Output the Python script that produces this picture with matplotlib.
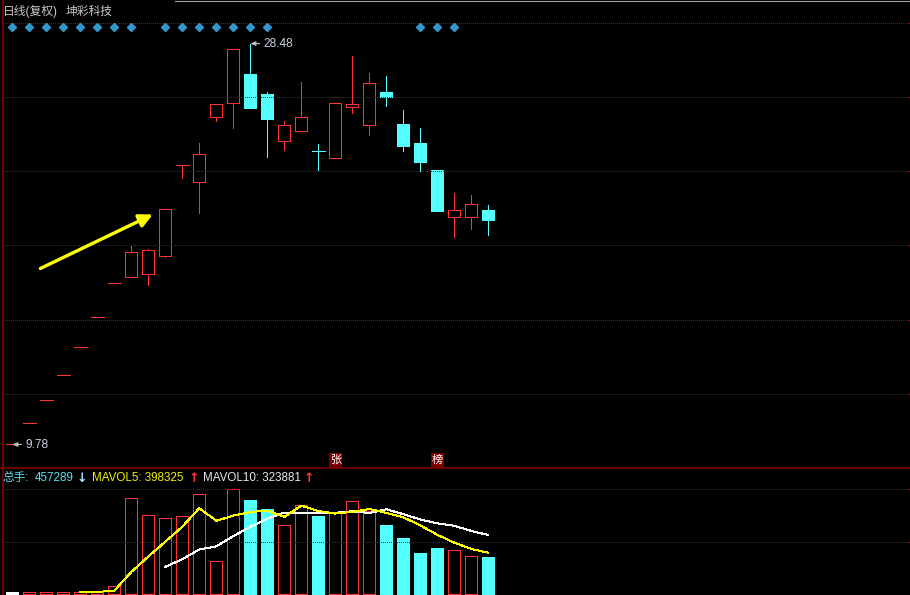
import numpy as np
import pandas as pd
import matplotlib
matplotlib.use("Agg")
import matplotlib.pyplot as plt
from matplotlib.patches import Rectangle
from matplotlib.lines import Line2D

# daily bars of 坤彩科技 (复权)
opens = [9.78, 10.76, 11.84, 13.02, 14.32, 15.75, 17.33, 17.60, 17.74, 18.58,
         22.82, 22.01, 25.05, 25.72, 27.04, 26.15, 23.95, 24.41, 23.46, 23.13,
         25.51, 24.67, 26.24, 24.75, 23.82, 22.56, 20.38, 20.38, 20.74]
highs = [9.78, 10.76, 11.84, 13.02, 14.32, 15.75, 17.33, 19.02, 18.92, 20.75,
         22.82, 23.82, 25.68, 28.24, 28.48, 26.20, 24.89, 26.71, 23.80, 25.72,
         27.88, 27.13, 26.99, 25.40, 24.52, 22.56, 21.49, 21.44, 20.93]
lows = [9.78, 10.76, 11.84, 13.02, 14.32, 15.75, 17.33, 17.60, 17.21, 18.52,
        22.20, 20.57, 24.89, 24.53, 25.47, 23.18, 23.51, 24.41, 22.57, 23.13,
        25.23, 24.21, 25.59, 23.49, 22.53, 20.65, 19.48, 19.81, 19.53]
closes = [9.78, 10.76, 11.84, 13.02, 14.32, 15.75, 17.33, 18.77, 18.86, 20.75,
          22.82, 23.34, 25.68, 28.24, 25.47, 24.95, 24.69, 25.06, 23.46, 25.72,
          25.67, 26.65, 25.98, 23.69, 22.95, 20.65, 20.73, 21.02, 20.23]
volumes = [30000, 26000, 24000, 27000, 25000, 29000, 95000, 1186000, 973000, 939000,
           960000, 1232000, 404000, 1294000, 1162000, 1042000, 849000, 1096000, 964000, 1005000,
           1149000, 1026000, 853000, 692000, 507000, 569000, 540000, 470000, 457289]

signal_days = [0, 1, 2, 3, 4, 5, 6, 7, 9, 10, 11, 12, 13, 14, 15, 24, 25, 26]
badges = [(19, "张"), (25, "榜")]

title_left = "日线(复权)"
title_name = "坤彩科技"
vol_label = "总手:"
vol_text = "457289"
ma5_text = "MAVOL5: 398325"
ma10_text = "MAVOL10: 323881"

RED = "#FF3232"
CYAN = "#54FFFF"
GRID = "#B00000"
DARKRED = "#8A0000"

plt.rcParams["font.family"] = ["Liberation Sans", "Noto Sans CJK SC", "DejaVu Sans"]

W, H = 910, 595
STEP = 17.0  # pixels between candles

fig = plt.figure(figsize=(W / 100, H / 100), dpi=100, facecolor="black")
axp = fig.add_axes([0, 128 / H, 1, 467 / H])
axv = fig.add_axes([0, 0, 1, 127 / H])
for ax in (axp, axv):
    ax.set_facecolor("black")
    ax.set_xlim(-12.5 / STEP + 0.01, (W - 12.5) / STEP + 0.01)
    ax.set_xticks([])
    ax.set_yticks([])
    for s in ax.spines.values():
        s.set_visible(False)

# price scale: 21.44 px per yuan, 9.78 sits on pixel row 444
ppy = 21.44
axp.set_ylim(9.78 - 22.5 / ppy, 9.78 + 444.5 / ppy)

# dotted grid
for lv in np.linspace(12.14, 29.46, 6):
    axp.axhline(lv, xmin=5 / W, xmax=1, color=GRID, lw=0.72, ls=(0, (1, 2)),
                antialiased=False)

half = 6 / STEP
lw1 = 0.72


def is_up(i):
    if closes[i] != opens[i]:
        return closes[i] > opens[i]
    return i == 0 or closes[i] >= closes[i - 1]


for i in range(len(closes)):
    o, h, l, c = opens[i], highs[i], lows[i], closes[i]
    col = RED if is_up(i) else CYAN
    top, bot = max(o, c), min(o, c)
    if o == c:
        axp.plot([i - 6.5 / STEP, i + 6.5 / STEP], [o, o], color=col, lw=lw1,
                 solid_capstyle="butt", antialiased=False)
    else:
        axp.add_patch(Rectangle((i - half, bot), 2 * half, top - bot, lw=lw1,
                                edgecolor=col, antialiased=False,
                                facecolor="none" if col == RED else col))
    if h > top:
        axp.plot([i, i], [top, h], color=col, lw=lw1, solid_capstyle="butt",
                 antialiased=False)
    if l < bot:
        axp.plot([i, i], [l, bot], color=col, lw=lw1, solid_capstyle="butt",
                 antialiased=False)

# signal diamonds along the top
tx = axp.get_xaxis_transform()
axp.plot(signal_days, [1 - 26.5 / 467] * len(signal_days), "D", ms=4.1,
         color="#3399CC", mec="#3399CC", transform=tx, ls="none")

# max / min labels
hi_i = int(np.argmax(highs))
lo_i = int(np.argmin(lows))
for idx, val in ((hi_i, highs[hi_i]), (lo_i, lows[lo_i])):
    axp.annotate(f"{val:.2f}", xy=(idx, val), xytext=(9.7, 0),
                 textcoords="offset points", va="center", ha="left",
                 fontsize=8.6, color="#C8D0E0",
                 arrowprops=dict(arrowstyle="-|>,head_length=0.35,head_width=0.15",
                                 color="#C0C0C0", lw=0.8, shrinkA=1, shrinkB=0))

# yellow arrow
axp.annotate("", xy=(8.26, 20.51), xytext=(1.65, 17.99),
             arrowprops=dict(arrowstyle="-|>,head_length=0.8,head_width=0.4",
                             color="#FFFF00", lw=2.4, shrinkA=0, shrinkB=0))

# badges at the bottom of the price pane
for idx, ch in badges:
    axp.add_patch(Rectangle((idx - 6.5 / STEP, 0), 13 / STEP, 14 / 467,
                            transform=tx, facecolor="#800000", edgecolor="none"))
    axp.text(idx, 7 / 467, ch, transform=tx, ha="center", va="center",
             color="white", fontsize=8)

# volume pane
vmax = max(volumes)
axv.set_ylim(-vmax / 105, vmax * 126 / 105)
for lv in (vmax, vmax / 2):
    axv.axhline(lv, xmin=5 / W, xmax=1, color=GRID, lw=0.72, ls=(0, (1, 2)),
                antialiased=False)

for i, v in enumerate(volumes):
    col = RED if is_up(i) else CYAN
    if i == 0:
        col_face, col_edge = "white", "white"
    elif col == RED:
        col_face, col_edge = "none", RED
    else:
        col_face, col_edge = CYAN, CYAN
    axv.add_patch(Rectangle((i - half, 0), 2 * half, v, lw=lw1,
                            edgecolor=col_edge, facecolor=col_face,
                            antialiased=False))

vol = pd.Series(volumes, dtype=float)
ma5 = vol.rolling(5).mean()
ma10 = vol.rolling(10).mean()
x = np.arange(len(volumes))
axv.plot(x, ma10, color="white", lw=0.72, antialiased=False)
axv.plot(x, ma5, color="#FFFF00", lw=0.72, antialiased=False)

# frame lines
fig.add_artist(Line2D([2.5 / W, 2.5 / W], [0, 1], color=DARKRED, lw=1.2))
fig.add_artist(Line2D([0, 1], [1 - 468 / H, 1 - 468 / H], color=DARKRED, lw=1.1))
fig.add_artist(Line2D([175 / W, 1], [1 - 0.5 / H, 1 - 0.5 / H], color="#A0A0A0", lw=0.8))


def ftext(px, py, s, **kw):
    fig.text(px / W, 1 - py / H, s, va="center", ha="left", **kw)


ftext(3, 12, title_left, fontsize=8.5, color="#C8C8C8")
ftext(66, 12, title_name, fontsize=8.5, color="#C8C8C8")

ftext(2, 478, vol_label, fontsize=8.4, color="#55E0F0")
ftext(35, 478, vol_text, fontsize=8.4, color="#55E0F0")
ftext(77, 478, "↓", fontsize=9, color="#A8E8FF", fontweight="bold",
      family="DejaVu Sans")
ftext(92, 478, ma5_text, fontsize=8.4, color="#F0F000")
ftext(189, 478, "↑", fontsize=9, color="#FF3333", fontweight="bold",
      family="DejaVu Sans")
ftext(203, 478, ma10_text, fontsize=8.4, color="#E8E8E8")
ftext(304, 478, "↑", fontsize=9, color="#FF3333", fontweight="bold",
      family="DejaVu Sans")

fig.savefig("out.png", dpi=100, facecolor="black")
